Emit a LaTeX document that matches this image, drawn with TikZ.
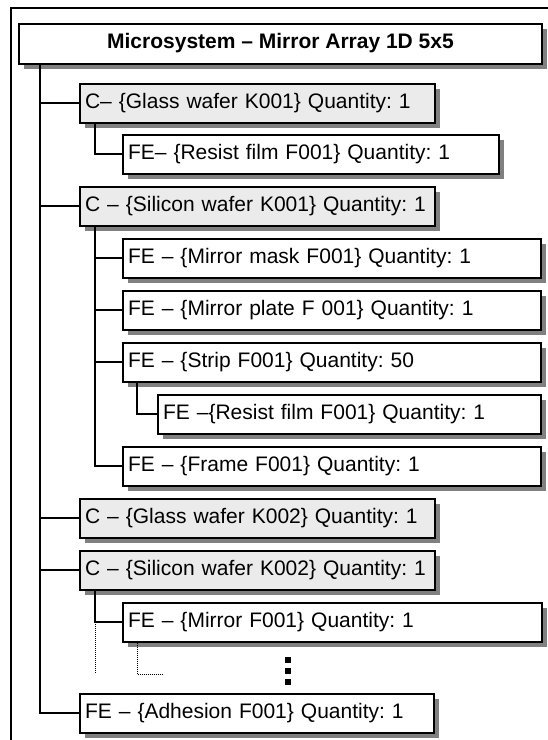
\documentclass[tikz,border=0pt]{standalone}
\usepackage{fontspec}
\setmainfont{Liberation Sans}
\usetikzlibrary{shadows}
\frenchspacing
\definecolor{cfill}{HTML}{EBEBEB}
\definecolor{shgray}{HTML}{808080}
\tikzset{
  basebox/.style={draw=black, line width=2pt, inner xsep=5pt, inner ysep=0pt,
    minimum height=38.5pt, anchor=north west, align=left,
    font=\fontsize{21}{25}\selectfont\frenchspacing,
    drop shadow={shadow xshift=5pt, shadow yshift=-5pt, fill=shgray, opacity=1}},
  cbox/.style={basebox, fill=cfill, text width=#1},
  febox/.style={basebox, fill=white, text width=#1},
  conn/.style={line width=1.7pt},
  dotconn/.style={line width=1pt, dash pattern=on 1pt off 1pt},
  sq/.style={fill=black, inner sep=0pt, minimum size=6pt}
}
\begin{document}
\begin{tikzpicture}[x=1pt,y=-1pt]
\useasboundingbox (0,0) rectangle (548,740);
% outer frame
\draw[line width=2pt] (11,745) -- (11,8) -- (555,8);
% title
\node[draw=black, line width=2pt, fill=white, minimum width=523pt, minimum height=40pt,
  inner sep=0pt, font=\fontsize{21}{25}\selectfont\bfseries\frenchspacing,
  drop shadow={shadow xshift=5pt, shadow yshift=-5pt, fill=shgray, opacity=1}]
  (title) at (280.5,43.5) {Microsystem – Mirror Array 1D 5x5};
% boxes
\node[cbox=345pt] (g1) at (79,83) {C– \{Glass wafer K001\} Quantity: 1};
\node[febox=366pt] (r1) at (122,134) {FE– \{Resist film F001\} Quantity: 1};
\node[cbox=345pt] (s1) at (79,186) {C – \{Silicon wafer K001\} Quantity: 1};
\node[febox=408pt] (mask) at (122,238) {FE – \{Mirror mask F001\} Quantity: 1};
\node[febox=408pt] (plate) at (122,290) {FE – \{Mirror plate F 001\} Quantity: 1};
\node[febox=408pt] (strip) at (122,342) {FE – \{Strip F001\} Quantity: 50};
\node[febox=373pt] (rs) at (157,394) {FE –\{Resist film F001\} Quantity: 1};
\node[febox=408pt] (frame) at (122,446) {FE – \{Frame F001\} Quantity: 1};
\node[cbox=345pt] (g2) at (79,498) {C – \{Glass wafer K002\} Quantity: 1};
\node[cbox=345pt] (s2) at (79,550) {C – \{Silicon wafer K002\} Quantity: 1};
\node[febox=409pt] (mir) at (122,602) {FE – \{Mirror F001\} Quantity: 1};
\node[febox=344pt] (ad) at (79,693) {FE – \{Adhesion F001\} Quantity: 1};
% helper coordinates
\coordinate (trunk) at (40,0);
\coordinate (sub) at (95,0);
\coordinate (subb) at (137,0);
\coordinate (dotend) at (163,674);
% trunk
\draw[conn] (trunk |- title.south) -- (trunk |- ad.west) -- (ad.west);
\foreach \n in {g1,s1,g2,s2} \draw[conn] (trunk |- \n.west) -- (\n.west);
% glass K001 child
\draw[conn] (sub |- g1.south) -- (sub |- r1.west) -- (r1.west);
% silicon K001 children
\draw[conn] (sub |- s1.south) -- (sub |- frame.west) -- (frame.west);
\foreach \n in {mask,plate,strip} \draw[conn] (sub |- \n.west) -- (\n.west);
\draw[conn] (subb |- strip.south) -- (subb |- rs.west) -- (rs.west);
% silicon K002 children
\draw[conn] (sub |- s2.south) -- (sub |- mir.west) -- (mir.west);
\draw[dotconn] (sub |- mir.west) -- (sub |- dotend);
\draw[dotconn] (subb |- mir.south) -- (subb |- dotend) -- (dotend);
% ellipsis squares
\node[sq] (d1) at (288,660) {};
\node[sq] (d2) at (288,671) {};
\node[sq] (d3) at (288,682) {};
\end{tikzpicture}
\end{document}
